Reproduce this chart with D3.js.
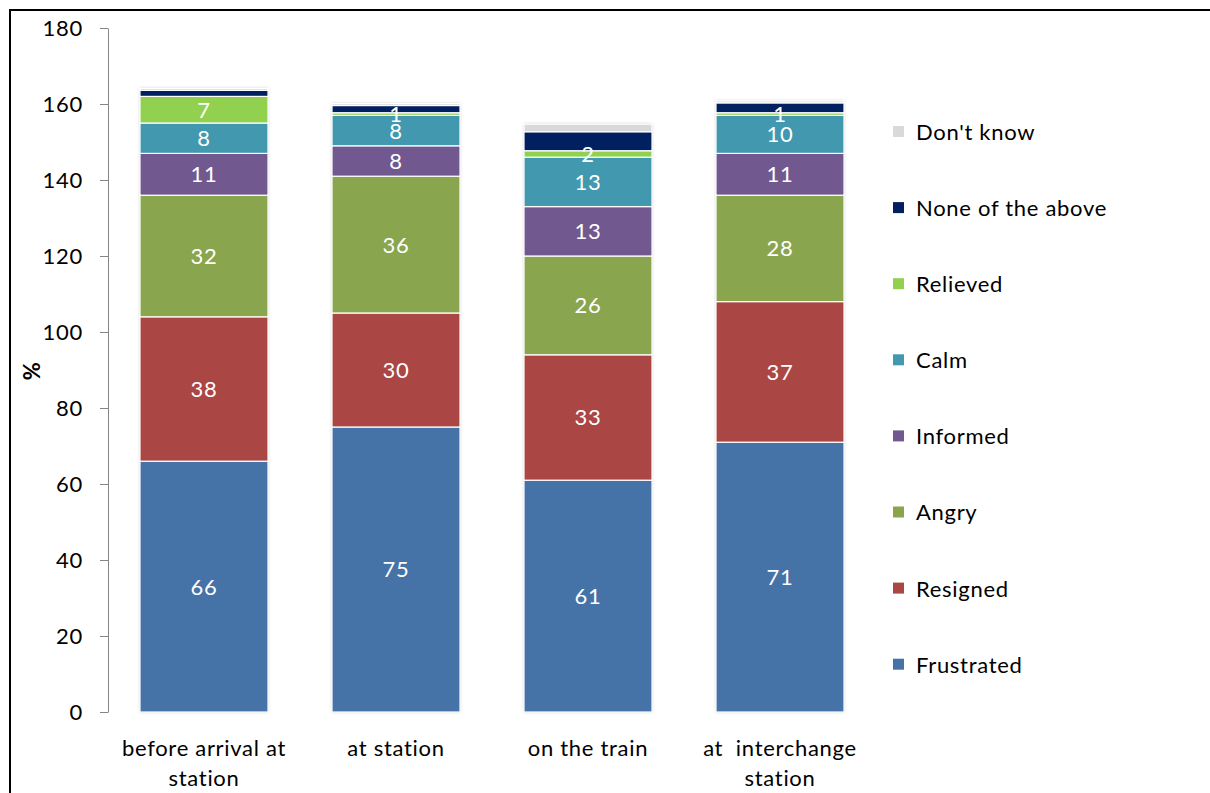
<!DOCTYPE html>
<html>
<head>
<meta charset="utf-8">
<script src="https://cdn.jsdelivr.net/npm/d3@7"></script>
<style>
  html, body { margin: 0; padding: 0; background: #fff; }
  svg { display: block; font-family: Lato, "Open Sans", sans-serif; }
  text { letter-spacing: 0.7px; }
  .xl { white-space: pre; }
</style>
</head>
<body>
<svg id="chart" width="1210" height="793"></svg>
<script>
const categories = [["before arrival at", "station"], ["at station"], ["on the train"], ["at  interchange", "station"]];
const seriesNames = ["Frustrated", "Resigned", "Angry", "Informed", "Calm", "Relieved", "None of the above", "Don't know"];
const seriesColors = ["#4572A7", "#AA4643", "#89A54E", "#71588F", "#4198AF", "#92D050", "#002060", "#D9D9D9"];
const frustrated = [66, 75, 61, 71];
const resigned   = [38, 30, 33, 37];
const angry      = [32, 36, 26, 28];
const informed   = [11, 8, 13, 11];
const calm       = [8, 8, 13, 10];
const relieved   = [7, 0.7, 1.7, 0.7];
const noneAbove  = [1.6, 1.9, 5, 2.6];
const dontKnow   = [0.5, 0.5, 2, 0.5];
const labelledSeries = ["Frustrated", "Resigned", "Angry", "Informed", "Calm", "Relieved"];
const yTicks = [0, 20, 40, 60, 80, 100, 120, 140, 160, 180];

const seriesValues = [frustrated, resigned, angry, informed, calm, relieved, noneAbove, dontKnow];
const rows = categories.map((c, i) => {
  const r = { key: i };
  seriesNames.forEach((s, j) => r[s] = seriesValues[j][i]);
  return r;
});

const FS = 22;
const svg = d3.select("#chart");

// outer border
svg.append("rect").attr("x", 10).attr("y", 10).attr("width", 1220).attr("height", 800)
  .attr("fill", "none").attr("stroke", "#000").attr("stroke-width", 2);

const defs = svg.append("defs");
const f = defs.append("filter").attr("id", "shadow").attr("x", "-10%").attr("y", "-10%").attr("width", "120%").attr("height", "120%");
f.append("feDropShadow").attr("dx", 0).attr("dy", 0).attr("stdDeviation", 1.5)
  .attr("flood-color", "#000").attr("flood-opacity", 0.25);

const x = d3.scaleBand().domain(categories.map((c, i) => i)).range([108, 876]).paddingInner(1/3).paddingOuter(1/6);
const y = d3.scaleLinear().domain([0, 180]).range([712, 28]);
const color = d3.scaleOrdinal().domain(seriesNames).range(seriesColors);

const stack = d3.stack().keys(seriesNames);
const stacked = stack(rows);

// bar shadows
const totals = rows.map(r => d3.sum(seriesNames, s => r[s]));
svg.append("g").selectAll("rect").data(rows).join("rect")
  .attr("x", d => x(d.key)).attr("width", x.bandwidth())
  .attr("y", d => y(totals[d.key])).attr("height", d => y(0) - y(totals[d.key]))
  .attr("fill", "#fff").attr("filter", "url(#shadow)");

const layers = svg.append("g").selectAll("g").data(stacked).join("g")
  .attr("fill", d => color(d.key));
layers.selectAll("rect").data(d => d).join("rect")
  .attr("x", d => x(d.data.key))
  .attr("width", x.bandwidth())
  .attr("y", d => y(d[1]))
  .attr("height", d => Math.max(0, y(d[0]) - y(d[1])))
  .attr("stroke", "#fff").attr("stroke-width", 1.2);

// data labels
const fmt = d3.format(".0f");
const labelG = svg.append("g");
stacked.filter(l => labelledSeries.includes(l.key)).forEach(l => {
  labelG.selectAll(null).data(l).join("text")
    .attr("x", d => x(d.data.key) + x.bandwidth() / 2)
    .attr("y", d => y((d[0] + d[1]) / 2))
    .attr("dy", "0.36em")
    .attr("text-anchor", "middle")
    .attr("fill", "#fff")
    .attr("font-size", FS)
    .text(d => fmt(d[1] - d[0]));
});

// y axis
const yAxis = svg.append("g").attr("transform", "translate(108,0)")
  .call(d3.axisLeft(y).tickValues(yTicks).tickSize(8).tickPadding(17).tickSizeOuter(0));
yAxis.select(".domain").attr("stroke", "#868686");
yAxis.selectAll(".tick line").attr("stroke", "#868686");
yAxis.selectAll(".tick text").attr("font-size", FS).attr("fill", "#000").attr("font-family", "Lato, sans-serif");

svg.append("text").attr("transform", "translate(32,371) rotate(-90)")
  .attr("text-anchor", "middle").attr("dy", "0.36em")
  .attr("font-size", FS).attr("font-weight", "bold").text("%");

// x labels
const xl = svg.append("g");
categories.forEach((c, i) => {
  const t = xl.append("text").attr("class", "xl").attr("x", x(i) + x.bandwidth() / 2).attr("y", 756)
    .attr("text-anchor", "middle").attr("font-size", FS).attr("fill", "#000");
  c.forEach((line, k) => t.append("tspan").attr("x", x(i) + x.bandwidth() / 2).attr("dy", k === 0 ? 0 : 30).text(line));
});

// legend (reverse order, top to bottom)
const legendNames = seriesNames.slice().reverse();
const leg = svg.append("g").selectAll("g").data(legendNames).join("g")
  .attr("transform", (d, i) => `translate(893, ${132 + i * 76.1})`);
leg.append("rect").attr("x", 0).attr("y", -6).attr("width", 11).attr("height", 11)
  .attr("fill", d => color(d));
leg.append("text").attr("x", 23).attr("dy", "0.36em").attr("font-size", FS).attr("fill", "#000").text(d => d);
</script>
</body>
</html>
